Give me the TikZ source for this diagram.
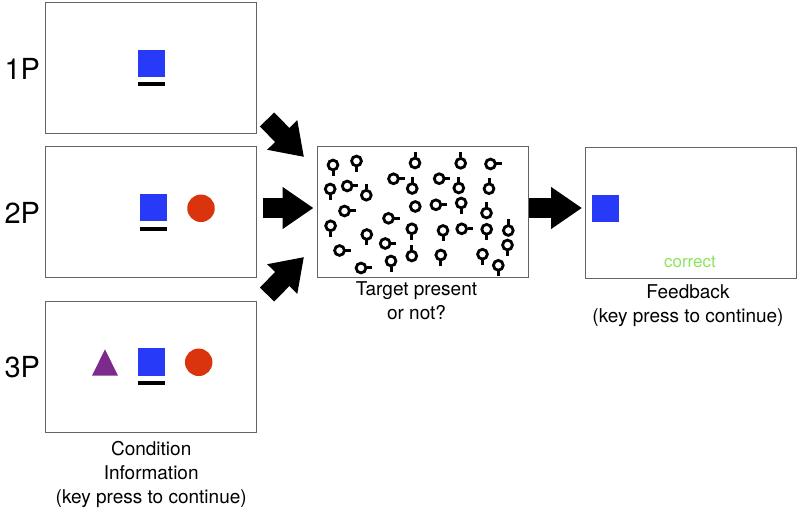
\documentclass[tikz,border=0pt]{standalone}
\usepackage{fontspec}
\setmainfont{TeX Gyre Heros}
\usetikzlibrary{arrows.meta,positioning,calc}

\definecolor{sqblue}{RGB}{38,58,248}
\definecolor{dotred}{RGB}{218,52,14}
\definecolor{tripurple}{RGB}{124,42,140}
\definecolor{okgreen}{RGB}{140,228,90}
\definecolor{framegray}{RGB}{100,100,100}

\begin{document}
\begin{tikzpicture}[x=1pt,y=-1pt,
    screen/.style={draw=framegray,line width=1pt,minimum width=211pt,minimum height=131pt,inner sep=0pt},
    condlabel/.style={font=\fontsize{29}{32}\selectfont,inner sep=0pt},
    caption/.style={font=\fontsize{19}{24}\selectfont,align=center,inner sep=0pt},
    bluesq/.style={fill=sqblue,minimum size=27pt,inner sep=0pt},
    cuebar/.style={fill=black,minimum width=27pt,minimum height=4pt,inner sep=0pt},
    reddot/.style={circle,fill=dotred,minimum size=27.5pt,inner sep=0pt},
    bigarrow/.style={line width=20pt,-{Triangle[length=31pt,width=40pt]}},
    ring/.style={line width=2.8pt},
    stem/.style={line width=3pt}]
\useasboundingbox (0,0) rectangle (800,510);

% condition screens
\foreach \y [count=\n] in {68.5,212.5,367}{
  \node[screen] (P\n) at (151.2,\y) {};
  \node[condlabel,left=5pt of P\n] (L\n) {\n P};
}
\node[bluesq] (sq1) at (151.5,63.5) {};
\node[cuebar] (bar1) at (151.5,84) {};

\node[bluesq] (sq2) at (153,208) {};
\node[cuebar] (bar2) at (153,228.8) {};
\node[reddot] (dot2) at (201,208.3) {};

\fill[tripurple] (92,375.7) -- (105,349.3) -- (118,375.7) -- cycle;
\node[bluesq] (sq3) at (151.7,362) {};
\node[cuebar] (bar3) at (151.7,383.2) {};
\node[reddot] (dot3) at (198.7,362.3) {};

\node[caption,below=8pt of P3] (capP3) {Condition\\Information\\(key press to continue)};

% search display
\node[screen] (search) at (422.5,212) {};
\foreach \x/\y/\a in {333/165/90, 356.5/161/90, 415/163/-90, 460.7/163.3/-90, 490.5/164/0,
    393.5/178.8/0, 439.2/178.7/0, 330.2/189/90, 347.2/186/0, 366.3/195.2/-90,
    412.2/188.5/-90, 458.8/188/-90, 489/188.7/-90, 435.9/204.8/0, 461.2/203/90,
    344.5/211/0, 388.5/218.3/0, 486.5/213/-90, 330.6/225.8/90, 366.8/234.5/90,
    411.8/228.8/90, 443/230.5/90, 461.7/228.8/0, 486.7/229.3/90, 508.3/230.5/-90,
    385.2/243.5/0, 339.5/250.5/0, 411.8/256/-90, 440.8/255/90, 482.5/254.2/90,
    507.5/245/90, 361/268/0, 391/261/90, 498.3/265.3/90}{
  \draw[ring] (\x,\y) circle (4.9);
  \draw[stem] (\x,\y) ++(\a:5.8) -- ++(\a:5.2);
}
\draw[ring] (415.3,206.5) circle (4.9);
\node[caption,below=3pt of search,xshift=-6pt] (capsearch) {Target present\\or not?};

% feedback
\node[screen] (feedback) at (691,213.5) {};
\node[bluesq] (sq4) at (605.5,208.5) {};
\node[font=\fontsize{17}{20}\selectfont,text=okgreen,inner sep=0pt] (fbtext) at (690,262) {correct};
\node[caption,below=5pt of feedback,xshift=-3pt] (capfb) {Feedback\\(key press to continue)};

% arrows
\coordinate (t1) at (267,119.5);
\coordinate (h1) at (304,157);
\coordinate (t2) at (263,208);
\coordinate (t3) at (267,294.5);
\coordinate (h3) at (304,257);
\coordinate (t4) at (529,208);
\draw[bigarrow] (t1) -- (h1);
\draw[bigarrow,shorten >=3pt] (t2) -- (t2 -| search.west);
\draw[bigarrow] (t3) -- (h3);
\draw[bigarrow,shorten >=3pt] (t4) -- (t4 -| feedback.west);
\end{tikzpicture}
\end{document}
